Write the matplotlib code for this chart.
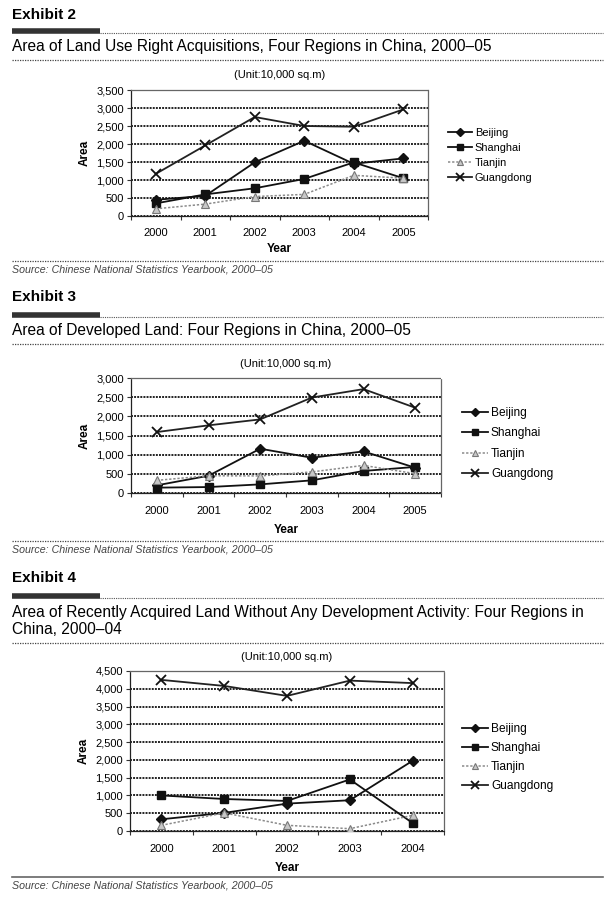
import matplotlib
matplotlib.use("Agg")
import matplotlib.pyplot as plt
from matplotlib.lines import Line2D
from matplotlib.ticker import FuncFormatter, FixedLocator

plt.rcParams['font.family'] = ['Liberation Sans', 'DejaVu Sans']

W, H = 615, 898

# ---------------- data ----------------
series_names = ['Beijing', 'Shanghai', 'Tianjin', 'Guangdong']

ex2_years = ['2000', '2001', '2002', '2003', '2004', '2005']
ex2_beijing = [450, 560, 1490, 2090, 1450, 1600]
ex2_shanghai = [350, 600, 770, 1030, 1490, 1050]
ex2_tianjin = [200, 330, 540, 600, 1130, 1050]
ex2_guangdong = [1170, 1960, 2750, 2500, 2480, 2960]
ex2_yticks = [0, 500, 1000, 1500, 2000, 2500, 3000, 3500]

ex3_years = ['2000', '2001', '2002', '2003', '2004', '2005']
ex3_beijing = [200, 450, 1155, 920, 1085, 660]
ex3_shanghai = [140, 155, 225, 330, 575, 680]
ex3_tianjin = [330, 450, 445, 550, 720, 505]
ex3_guangdong = [1590, 1765, 1920, 2490, 2710, 2225]
ex3_yticks = [0, 500, 1000, 1500, 2000, 2500, 3000]

ex4_years = ['2000', '2001', '2002', '2003', '2004']
ex4_beijing = [330, 510, 770, 865, 1975]
ex4_shanghai = [1000, 900, 845, 1450, 225]
ex4_tianjin = [160, 510, 160, 65, 440]
ex4_guangdong = [4250, 4080, 3800, 4230, 4160]
ex4_yticks = [0, 500, 1000, 1500, 2000, 2500, 3000, 3500, 4000, 4500]

exhibit_labels = ['Exhibit 2', 'Exhibit 3', 'Exhibit 4']
exhibit_titles = ['Area of Land Use Right Acquisitions, Four Regions in China, 2000\u201305',
                  'Area of Developed Land: Four Regions in China, 2000\u201305',
                  'Area of Recently Acquired Land Without Any Development Activity: Four Regions in\nChina, 2000\u201304']
unit_text = '(Unit:10,000 sq.m)'
source_text = 'Source: Chinese National Statistics Yearbook, 2000\u201305'

# ---------------- helpers ----------------
fig = plt.figure(figsize=(W / 100, H / 100), dpi=100)
fig.patch.set_facecolor('white')


def fx(x):
    return x / W


def fy(y):
    return 1 - y / H


def hline(x0, x1, y, **kw):
    fig.add_artist(Line2D([fx(x0), fx(x1)], [fy(y), fy(y)], transform=fig.transFigure, **kw))


styles = {
    'Beijing': dict(color='#111111', lw=1.3, ls='-', marker='D', ms=4.6, mfc='#111111', mec='#111111'),
    'Shanghai': dict(color='#111111', lw=1.3, ls='-', marker='s', ms=5.6, mfc='#111111', mec='#111111'),
    'Tianjin': dict(color='#8a8a8a', lw=1.1, ls=(0, (1.5, 1.2)), marker='^', ms=5.4, mfc='#c8c8c8', mec='#777777', mew=0.8),
    'Guangdong': dict(color='#222222', lw=1.3, ls='-', marker='x', ms=6.5, mec='#111111', mew=1.3),
}


def header(label, title, y_label, y_bar, y_title, y_rule, title_size):
    fig.text(fx(12), fy(y_label), label, fontsize=11, fontweight='bold', va='center', ha='left')
    hline(12, 100, y_bar, color='#333333', lw=4, solid_capstyle='butt')
    hline(100, 603, y_bar + 1.5, color='#555555', lw=0.8, ls=(0, (1, 1)))
    fig.text(fx(12), fy(y_title), title, fontsize=title_size, va='center', ha='left', linespacing=1.25)
    hline(12, 603, y_rule, color='#444444', lw=0.9, ls=(0, (1, 1)))


def chart(rect, years, data, yticks, unit_y, leg_x, leg_y, leg_size, leg_spacing, xlabelpad):
    left, top, right, bottom = rect
    ax = fig.add_axes([fx(left), fy(bottom), fx(right) - fx(left), fy(top) - fy(bottom)])
    x = list(range(len(years)))
    handles = []
    for name, vals in zip(series_names, data):
        h, = ax.plot(x, vals, label=name, **styles[name], zorder=3)
        handles.append(h)
    ax.set_xlim(-0.5, len(years) - 0.5)
    ax.set_ylim(0, yticks[-1])
    ax.set_yticks(yticks)
    ax.yaxis.set_major_formatter(FuncFormatter(lambda v, p: f'{int(v):,}'))
    ax.set_xticks(x)
    ax.set_xticklabels(years)
    ax.xaxis.set_minor_locator(FixedLocator([i - 0.5 for i in range(len(years) + 1)]))
    ax.tick_params(axis='x', which='major', length=0, pad=9, labelsize=8)
    ax.tick_params(axis='x', which='minor', length=3, width=0.8, color='#333333', direction='out')
    ax.tick_params(axis='y', which='major', length=3, width=0.8, color='#333333', labelsize=8, pad=2)
    ax.grid(axis='y', color='#222222', lw=1.4, ls=(0, (1, 0.6)), zorder=1)
    for s in ax.spines.values():
        s.set_color('#666666')
        s.set_linewidth(0.9)
        s.set_linestyle((0, (1, 1)))
    ax.spines['left'].set_color('#222222')
    ax.spines['bottom'].set_color('#222222')
    ax.set_axisbelow(True)
    ax.set_xlabel('Year', fontsize=8.5, fontweight='bold', labelpad=xlabelpad)
    ax.set_ylabel('Area', fontsize=8.5, fontweight='bold', labelpad=4)
    fig.text(fx((left + right) / 2), fy(unit_y), unit_text, fontsize=8, ha='center', va='center')
    # legend
    lx0, lx1 = leg_x
    ax_w = right - left
    ax_h = bottom - top
    ax.legend(handles=handles, loc='upper left',
              bbox_to_anchor=((lx0 - left) / ax_w, (bottom - leg_y) / ax_h),
              frameon=False, fontsize=leg_size, handlelength=(lx1 - lx0) / (leg_size * 1.389),
              handletextpad=0.25, labelspacing=leg_spacing, borderpad=0, borderaxespad=0,
              markerscale=0.8)
    return ax


# Exhibit 2
header(exhibit_labels[0], exhibit_titles[0], 15, 31, 46, 60, 11.2)
chart((131, 90, 428, 216), ex2_years, [ex2_beijing, ex2_shanghai, ex2_tianjin, ex2_guangdong],
      ex2_yticks, 75, (448, 472), 128, 7.9, 0.45, 3)
hline(12, 603, 261, color='#444444', lw=0.9, ls=(0, (1, 1)))
fig.text(fx(12), fy(269), source_text, fontsize=7.7, style='italic', color='#444444', va='center')

# Exhibit 3
header(exhibit_labels[1], exhibit_titles[1], 297, 315, 330, 344, 11.2)
chart((131, 378, 441, 493), ex3_years, [ex3_beijing, ex3_shanghai, ex3_tianjin, ex3_guangdong],
      ex3_yticks, 364, (462, 488), 407, 8.6, 0.7, 6)
hline(12, 603, 541, color='#444444', lw=0.9, ls=(0, (1, 1)))
fig.text(fx(12), fy(549), source_text, fontsize=7.7, style='italic', color='#444444', va='center')

# Exhibit 4
header(exhibit_labels[2], exhibit_titles[2], 578, 596, 621, 643, 11.2)
chart((130, 671, 444, 831), ex4_years, [ex4_beijing, ex4_shanghai, ex4_tianjin, ex4_guangdong],
      ex4_yticks, 657, (462, 488), 723, 8.6, 0.58, 6)
hline(12, 603, 877, color='#666666', lw=1.2)
fig.text(fx(12), fy(886), source_text, fontsize=7.7, style='italic', color='#444444', va='center')

fig.savefig('out.png', dpi=100, facecolor='white')
